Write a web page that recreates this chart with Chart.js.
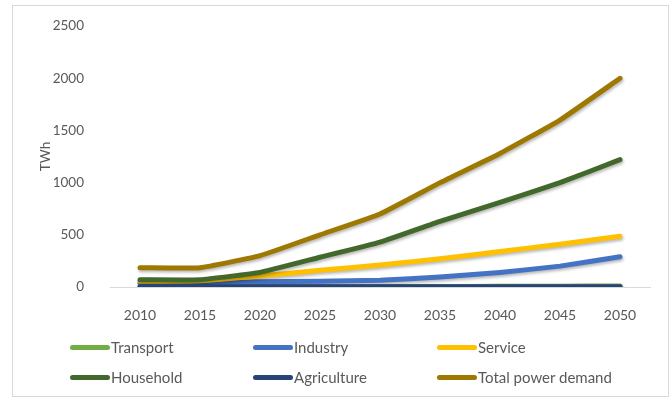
<!DOCTYPE html>
<html>
<head>
<meta charset="utf-8">
<script src="https://cdn.jsdelivr.net/npm/chart.js@4"></script>
<style>
  html, body { margin: 0; padding: 0; background: #fff; }
  #wrap { position: relative; width: 671px; height: 399px; }
  #frame { position: absolute; left: 12px; top: 5px; width: 657px; height: 392px; border: 1px solid #d9d9d9; box-sizing: border-box; }
  #myChart { position: absolute; left: 0; top: 0; }
  #legend { position: absolute; left: 0; top: 0; width: 671px; height: 399px; font-family: Lato, sans-serif; font-size: 15px; color: #595959; }
  .item { position: absolute; display: flex; align-items: center; white-space: nowrap; }
  .swatch { width: 40px; height: 5px; border-radius: 2.5px; margin-right: 1px; }
</style>
</head>
<body>
<div id="wrap">
  <div id="frame"></div>
  <canvas id="myChart" width="671" height="399"></canvas>
  <div id="legend"></div>
</div>
<script>
// años
const anios = ['2010', '2015', '2020', '2025', '2030', '2035', '2040', '2045', '2050'];

// TWh por sector
const transporte = [2, 2, 3, 3, 4, 5, 6, 8, 10];
const industria = [40, 40, 50, 55, 65, 95, 140, 200, 290];
const servicio = [55, 60, 105, 160, 210, 270, 340, 410, 487];
const hogares = [70, 70, 140, 285, 430, 630, 810, 1000, 1220];
const agricultura = [3, 3, 3, 3, 3, 3, 3, 3, 3];
const total = [185, 185, 300, 500, 700, 1000, 1280, 1600, 2000];

const nombres = ['Transport', 'Industry', 'Service', 'Household', 'Agriculture', 'Total power demand'];
const colores = ['#70ad47', '#4472c4', '#ffc000', '#43682b', '#264478', '#9e7800'];
const series = [transporte, industria, servicio, hogares, agricultura, total];

const ctx = document.getElementById('myChart');

// sombra suave como en Excel
const sombra = {
  id: 'sombra',
  beforeDatasetDraw(chart) {
    const c = chart.ctx;
    c.save();
    c.shadowColor = 'rgba(0,0,0,0.28)';
    c.shadowBlur = 3;
    c.shadowOffsetX = 1;
    c.shadowOffsetY = 2;
  },
  afterDatasetDraw(chart) {
    chart.ctx.restore();
  }
};

const datasets = series.map((d, i) => ({
  label: nombres[i],
  data: d,
  borderColor: colores[i],
  backgroundColor: colores[i],
  borderWidth: 5,
  borderCapStyle: 'round',
  borderJoinStyle: 'round',
  pointRadius: 0,
  tension: 0.12,
  order: series.length - i
}));

new Chart(ctx, {
  type: 'line',
  data: { labels: anios, datasets: datasets },
  options: {
    responsive: false,
    animation: false,
    layout: { padding: { left: 0, right: 21, top: 25, bottom: 0 } },
    plugins: {
      legend: { display: false },
      tooltip: { enabled: false }
    },
    scales: {
      x: {
        offset: true,
        grid: { display: false },
        border: { display: true, color: '#d9d9d9', width: 1 },
        ticks: { color: '#595959', font: { family: 'Lato', size: 14 }, padding: 12, maxRotation: 0 },
        afterFit(scale) { scale.height = 112; }
      },
      y: {
        min: 0,
        max: 2500,
        grid: { display: false },
        border: { display: false },
        ticks: { stepSize: 500, color: '#595959', font: { family: 'Lato', size: 13.5 }, padding: 18, callback: v => String(v) },
        title: { display: true, text: 'TWh', color: '#595959', font: { family: 'Lato', size: 13.5 }, padding: { top: 38, bottom: 0 } },
        afterFit(scale) { scale.width = 110; }
      }
    }
  },
  plugins: [sombra]
});

// leyenda en 3 columnas
const leyenda = document.getElementById('legend');
const colX = [70, 253, 437];
const filaY = [347, 377];
nombres.forEach((n, i) => {
  const el = document.createElement('div');
  el.className = 'item';
  el.style.left = colX[i % 3] + 'px';
  el.style.top = (filaY[Math.floor(i / 3)] - 10) + 'px';
  el.style.height = '20px';
  el.innerHTML = '<span class="swatch" style="background:' + colores[i] + '"></span><span>' + n + '</span>';
  leyenda.appendChild(el);
});
</script>
</body>
</html>
